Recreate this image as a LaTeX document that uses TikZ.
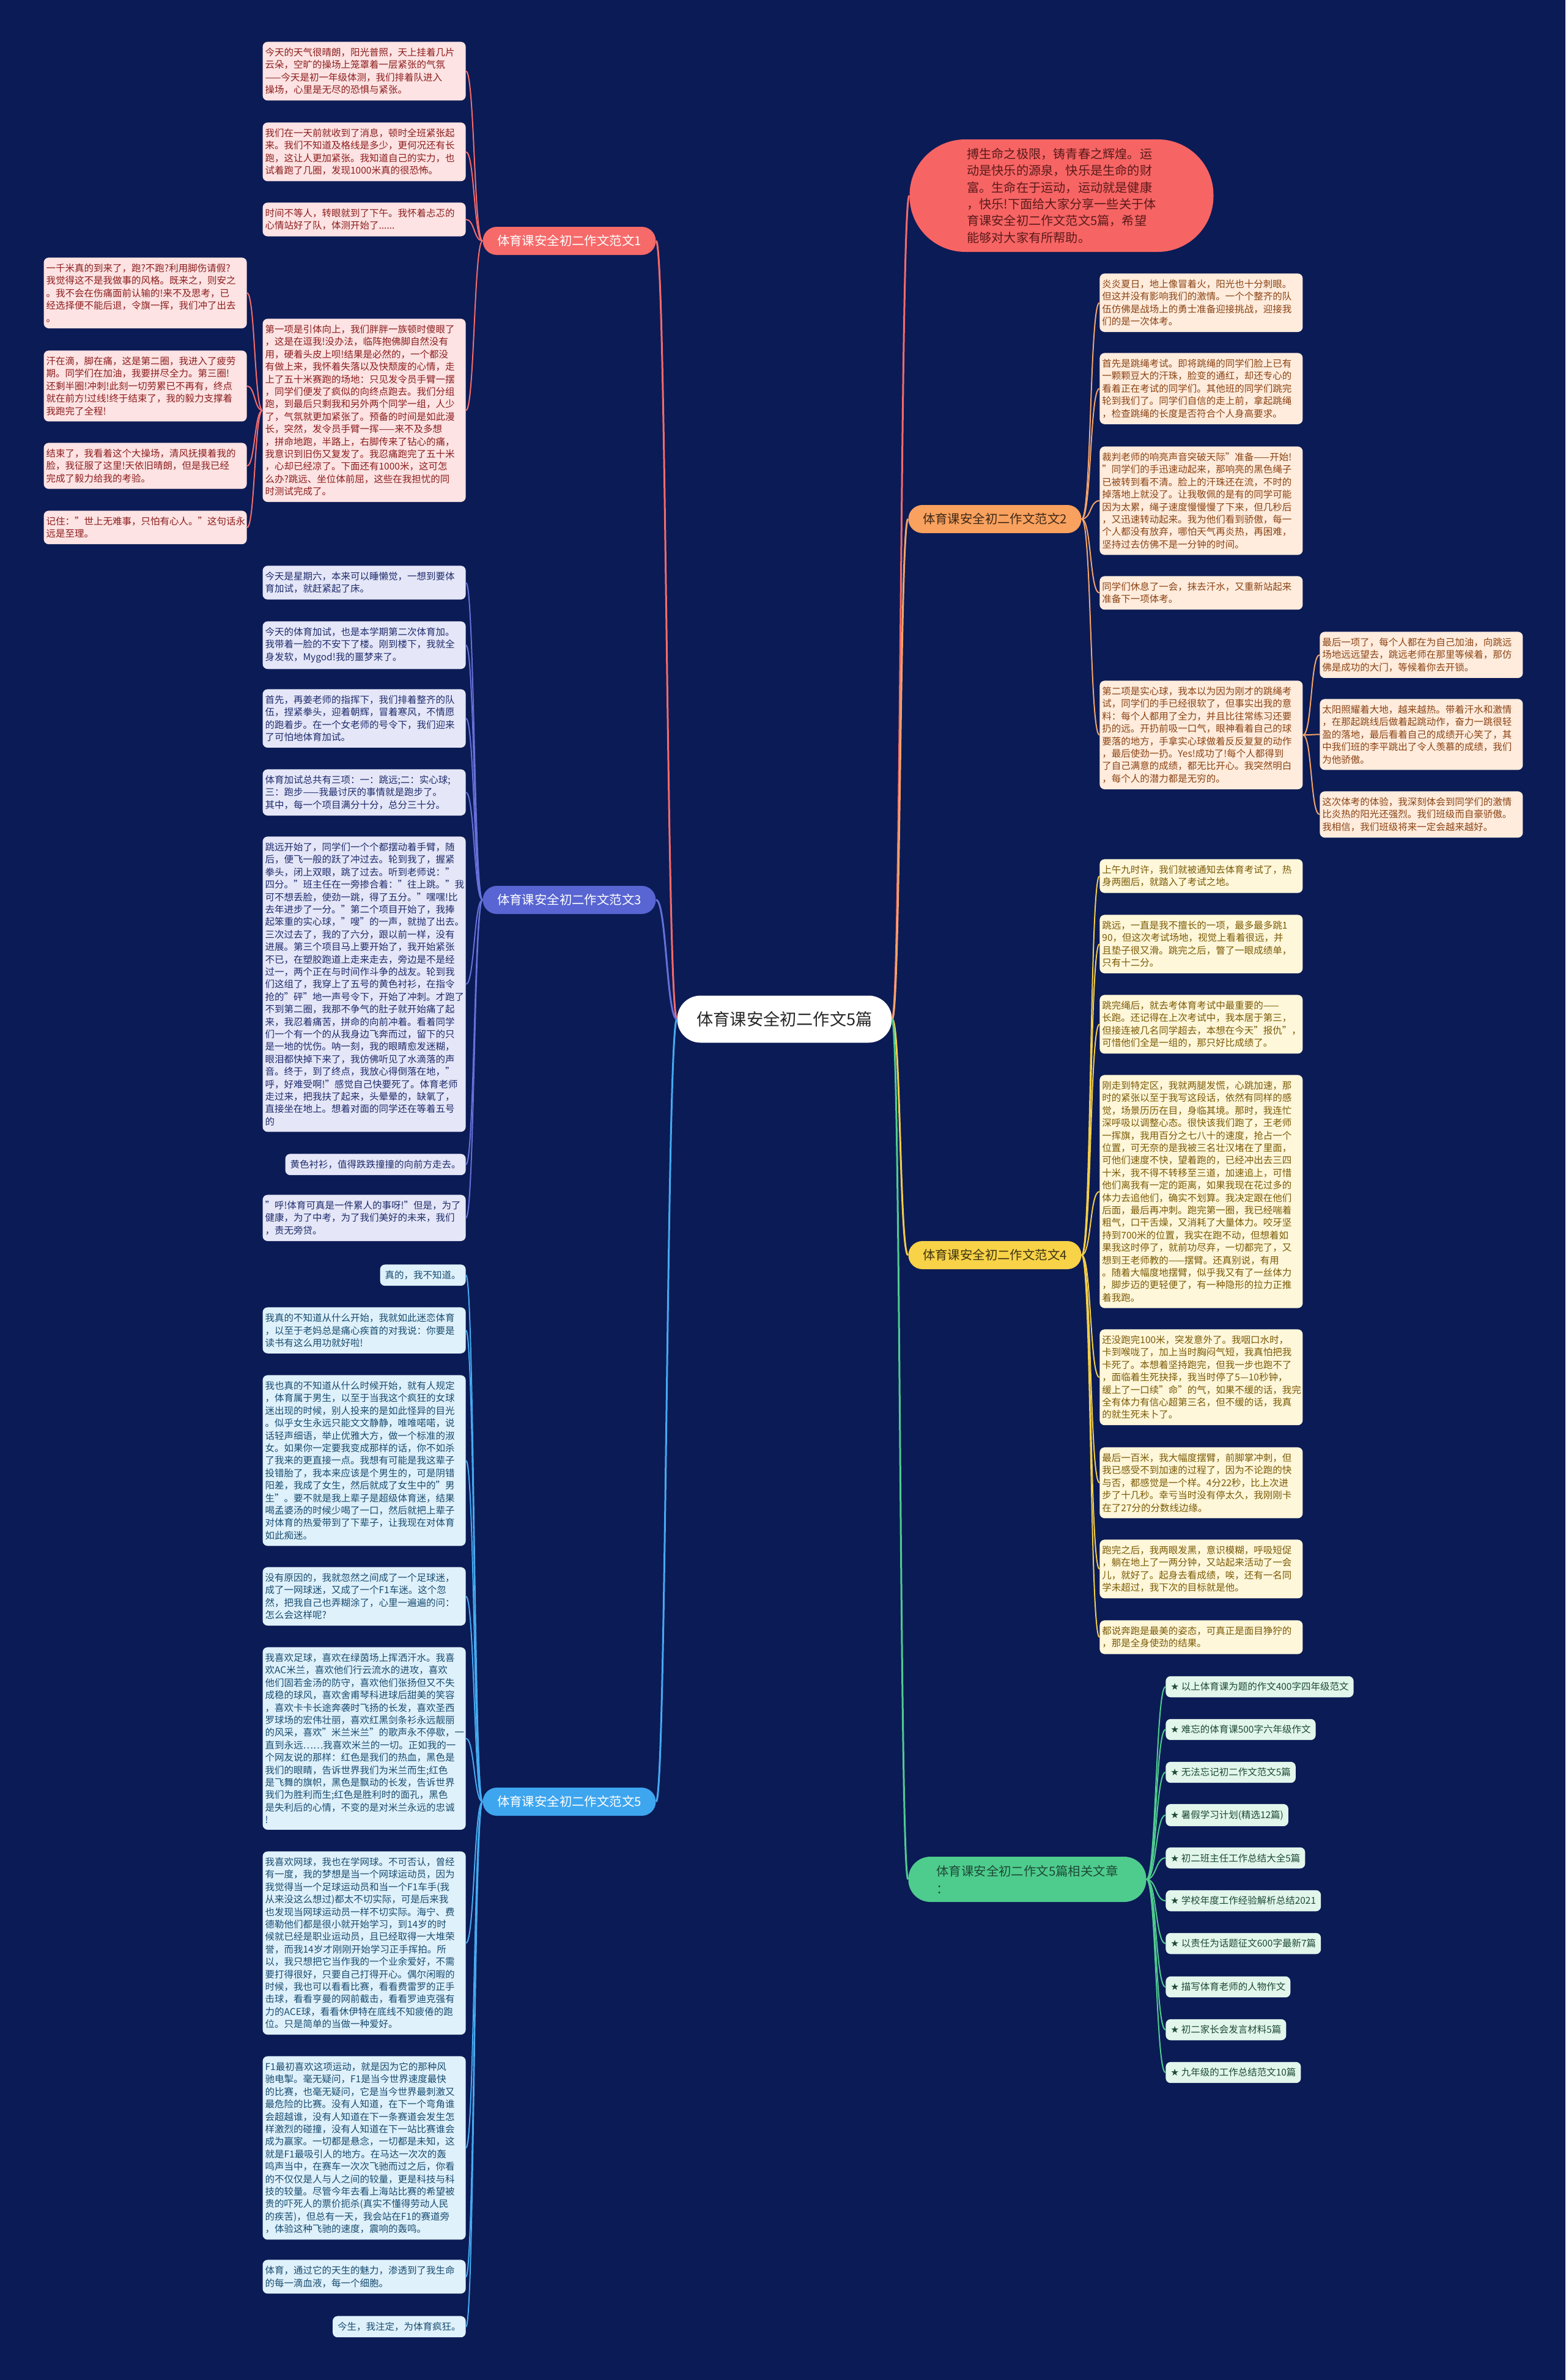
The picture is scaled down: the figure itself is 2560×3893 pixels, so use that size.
\documentclass[tikz,border=0pt]{standalone}
\usepackage{fontspec}
\setmainfont{Noto Sans CJK SC}
\newfontfamily\dvs{DejaVu Sans}
\definecolor{bgc}{HTML}{0B1B55}
\definecolor{c1}{HTML}{F46B6B}
\definecolor{c2}{HTML}{F4A46A}
\definecolor{c3}{HTML}{6670D8}
\definecolor{c4}{HTML}{F2CD4A}
\definecolor{c5}{HTML}{45AAF0}
\definecolor{cg}{HTML}{4FCB8F}
\definecolor{L1c}{HTML}{F66A6A}
\definecolor{L2c}{HTML}{F9A15E}
\definecolor{L3c}{HTML}{5865D2}
\definecolor{L4c}{HTML}{F8D247}
\definecolor{L5c}{HTML}{3EA6EF}
\definecolor{Lgc}{HTML}{4ECC8D}
\definecolor{f1}{HTML}{FDE3E3}
\definecolor{f2}{HTML}{FFECDD}
\definecolor{f3}{HTML}{E5E7F8}
\definecolor{f4}{HTML}{FFF7DA}
\definecolor{f5}{HTML}{DFF1FB}
\definecolor{fg}{HTML}{E2F6EC}
\definecolor{t1}{HTML}{8C1D1D}
\definecolor{t2}{HTML}{8A4313}
\definecolor{t3}{HTML}{1E2B6B}
\definecolor{t4}{HTML}{7A5A05}
\definecolor{t5}{HTML}{184C70}
\definecolor{tg}{HTML}{1D4A36}
\definecolor{introc}{HTML}{F76464}
\definecolor{introt}{HTML}{5C1A1A}
\begin{document}
\begin{tikzpicture}[x=0.5pt,y=-0.5pt,
  bx/.style={rounded corners=4pt, inner xsep=4pt, inner ysep=5pt, align=left,
    font=\fontsize{7.75pt}{10.2pt}\selectfont},
  wide/.style={text width=162pt, inner xsep=2pt},
  bA/.style={bx, fill=f1, text=t1},
  bB/.style={bx, fill=f2, text=t2},
  bC/.style={bx, fill=f3, text=t3},
  bD/.style={bx, fill=f4, text=t4},
  bE/.style={bx, fill=f5, text=t5},
  gi/.style={bx, fill=fg, text=tg, anchor=west},
  lab/.style={rounded corners=11.5pt, minimum width=141.5pt, minimum height=23pt,
    inner sep=0pt, font=\fontsize{10.2pt}{12pt}\selectfont},
  rootn/.style={fill=white, text=black!85, rounded corners=19pt, minimum width=175.5pt,
    minimum height=38.5pt, inner sep=0pt, font=\fontsize{13.6pt}{16pt}\selectfont},
  intro/.style={fill=introc, text=introt, rounded corners=45.5pt, minimum width=248.5pt,
    minimum height=92pt, inner sep=0pt, align=left, font=\fontsize{10.1pt}{13.7pt}\selectfont},
  glab/.style={fill=Lgc, text=tg, rounded corners=18pt, minimum width=194.5pt, minimum height=37pt,
    inner xsep=23pt, inner ysep=0pt, text width=148.5pt, align=left, font=\fontsize{10.2pt}{14.3pt}\selectfont},
  rl/.style={line width=1.5pt},
  ln/.style={line width=1pt}
]
\useasboundingbox (0,0) rectangle (2560,3893);
\fill[bgc] (0,0) rectangle (2560,3893);

% ---------- root and labels ----------
\node[rootn] (root) at (1283,1667) {体育课安全初二作文5篇};
\node[intro] (intro) at (1736,320) {搏生命之极限，铸青春之辉煌。运\\动是快乐的源泉，快乐是生命的财\\富。生命在于运动，运动就是健康\\，快乐!下面给大家分享一些关于体\\育课安全初二作文范文5篇，希望\\能够对大家有所帮助。};
\node[lab, fill=L1c, text=white] (L1) at (931,394) {体育课安全初二作文范文1};
\node[lab, fill=L2c, text=black!75!L2c] (L2) at (1627,849) {体育课安全初二作文范文2};
\node[lab, fill=L3c, text=white] (L3) at (931,1472) {体育课安全初二作文范文3};
\node[lab, fill=L4c, text=black!75!L4c] (L4) at (1627,2053) {体育课安全初二作文范文4};
\node[lab, fill=L5c, text=white] (L5) at (931,2947) {体育课安全初二作文范文5};
\node[glab] (LG) at (1680,3074) {体育课安全初二作文5篇相关文章\\：};

% ---------- branch 1 ----------
\node[bA, wide, anchor=north east] (b1a) at (762,68) {今天的天气很晴朗，阳光普照，天上挂着几片\\云朵，空旷的操场上笼罩着一层紧张的气氛\\——今天是初一年级体测，我们排着队进入\\操场，心里是无尽的恐惧与紧张。};
\node[bA, wide, anchor=north east] (b1b) at (762,200) {我们在一天前就收到了消息，顿时全班紧张起\\来。我们不知道及格线是多少，更何况还有长\\跑，这让人更加紧张。我知道自己的实力，也\\试着跑了几圈，发现1000米真的很恐怖。};
\node[bA, wide, anchor=north east] (b1c) at (762,331) {时间不等人，转眼就到了下午。我怀着忐忑的\\心情站好了队，体测开始了......};
\node[bA, wide, anchor=north east] (b1d) at (762,521) {第一项是引体向上，我们胖胖一族顿时傻眼了\\，这是在逗我!没办法，临阵抱佛脚自然没有\\用，硬着头皮上呗!结果是必然的，一个都没\\有做上来，我怀着失落以及快颓废的心情，走\\上了五十米赛跑的场地：只见发令员手臂一摆\\，同学们便发了疯似的向终点跑去。我们分组\\跑，到最后只剩我和另外两个同学一组，人少\\了，气氛就更加紧张了。预备的时间是如此漫\\长，突然，发令员手臂一挥——来不及多想\\，拼命地跑，半路上，右脚传来了钻心的痛，\\我意识到旧伤又复发了。我忍痛跑完了五十米\\，心却已经凉了。下面还有1000米，这可怎\\么办?跳远、坐位体前屈，这些在我担忧的同\\时测试完成了。};
\node[bA, wide, anchor=north east] (b1e) at (404,421) {一千米真的到来了，跑?不跑?利用脚伤请假?\\我觉得这不是我做事的风格。既来之，则安之\\。我不会在伤痛面前认输的!来不及思考，已\\经选择便不能后退，令旗一挥，我们冲了出去\\。};
\node[bA, wide, anchor=north east] (b1f) at (404,573) {汗在滴，脚在痛，这是第二圈，我进入了疲劳\\期。同学们在加油，我要拼尽全力。第三圈!\\还剩半圈!冲刺!此刻一切劳累已不再有，终点\\就在前方!过线!终于结束了，我的毅力支撑着\\我跑完了全程!};
\node[bA, wide, anchor=north east] (b1g) at (404,724) {结束了，我看着这个大操场，清风抚摸着我的\\脸，我征服了这里!天依旧晴朗，但是我已经\\完成了毅力给我的考验。};
\node[bA, wide, anchor=north east] (b1h) at (404,835) {记住："世上无难事，只怕有心人。"这句话永\\远是至理。};

% ---------- branch 3 ----------
\node[bC, wide, anchor=north east] (b3a) at (762,925) {今天是星期六，本来可以睡懒觉，一想到要体\\育加试，就赶紧起了床。};
\node[bC, wide, anchor=north east] (b3b) at (762,1016) {今天的体育加试，也是本学期第二次体育加。\\我带着一脸的不安下了楼。刚到楼下，我就全\\身发软，Mygod!我的噩梦来了。};
\node[bC, wide, anchor=north east] (b3c) at (762,1127) {首先，再姜老师的指挥下，我们排着整齐的队\\伍，捏紧拳头，迎着朝辉，冒着寒风，不情愿\\的跑着步。在一个女老师的号令下，我们迎来\\了可怕地体育加试。};
\node[bC, wide, anchor=north east] (b3d) at (762,1258) {体育加试总共有三项：一：跳远;二：实心球;\\三：跑步——我最讨厌的事情就是跑步了。\\其中，每一个项目满分十分，总分三十分。};
\node[bC, wide, anchor=north east] (b3e) at (762,1368) {跳远开始了，同学们一个个都摆动着手臂，随\\后，便飞一般的跃了冲过去。轮到我了，握紧\\拳头，闭上双眼，跳了过去。听到老师说："\\四分。"班主任在一旁掺合着："往上跳。"我\\可不想丢脸，使劲一跳，得了五分。"嘿嘿!比\\去年进步了一分。"第二个项目开始了，我捧\\起笨重的实心球，"嗖"的一声，就抛了出去。\\三次过去了，我的了六分，跟以前一样，没有\\进展。第三个项目马上要开始了，我开始紧张\\不已，在塑胶跑道上走来走去，旁边是不是经\\过一，两个正在与时间作斗争的战友。轮到我\\们这组了，我穿上了五号的黄色衬衫，在指令\\抢的"砰"地一声号令下，开始了冲刺。才跑了\\不到第二圈，我那不争气的肚子就开始痛了起\\来，我忍着痛苦，拼命的向前冲着。看着同学\\们一个有一个的从我身边飞奔而过，留下的只\\是一地的忧伤。呐一刻，我的眼睛愈发迷糊，\\眼泪都快掉下来了，我仿佛听见了水滴落的声\\音。终于，到了终点，我放心得倒落在地，"\\呼，好难受啊!"感觉自己快要死了。体育老师\\走过来，把我扶了起来，头晕晕的，缺氧了，\\直接坐在地上。想着对面的同学还在等着五号\\的};
\node[bC, anchor=north east] (b3f) at (762,1887) {黄色衬衫，值得跌跌撞撞的向前方走去。};
\node[bC, wide, anchor=north east] (b3g) at (762,1954) {"呼!体育可真是一件累人的事呀!"但是，为了\\健康，为了中考，为了我们美好的未来，我们\\，责无旁贷。};

% ---------- branch 5 ----------
\node[bE, anchor=north east] (b5a) at (762,2068) {真的，我不知道。};
\node[bE, wide, anchor=north east] (b5b) at (762,2138) {我真的不知道从什么开始，我就如此迷恋体育\\，以至于老妈总是痛心疾首的对我说：你要是\\读书有这么用功就好啦!};
\node[bE, wide, anchor=north east] (b5c) at (762,2249) {我也真的不知道从什么时候开始，就有人规定\\，体育属于男生，以至于当我这个疯狂的女球\\迷出现的时候，别人投来的是如此怪异的目光\\。似乎女生永远只能文文静静，唯唯喏喏，说\\话轻声细语，举止优雅大方，做一个标准的淑\\女。如果你一定要我变成那样的话，你不如杀\\了我来的更直接一点。我想有可能是我这辈子\\投错胎了，我本来应该是个男生的，可是阴错\\阳差，我成了女生，然后就成了女生中的"男\\生"。要不就是我上辈子是超级体育迷，结果\\喝孟婆汤的时候少喝了一口，然后就把上辈子\\对体育的热爱带到了下辈子，让我现在对体育\\如此痴迷。};
\node[bE, wide, anchor=north east] (b5d) at (762,2563) {没有原因的，我就忽然之间成了一个足球迷，\\成了一网球迷，又成了一个F1车迷。这个忽\\然，把我自己也弄糊涂了，心里一遍遍的问：\\怎么会这样呢?};
\node[bE, wide, anchor=north east] (b5e) at (762,2694) {我喜欢足球，喜欢在绿茵场上挥洒汗水。我喜\\欢AC米兰，喜欢他们行云流水的进攻，喜欢\\他们固若金汤的防守，喜欢他们张扬但又不失\\成稳的球风，喜欢舍甫琴科进球后甜美的笑容\\，喜欢卡卡长途奔袭时飞扬的长发，喜欢圣西\\罗球场的宏伟壮丽，喜欢红黑剑条衫永远靓丽\\的风采，喜欢"米兰米兰"的歌声永不停歇，一\\直到永远……我喜欢米兰的一切。正如我的一\\个网友说的那样：红色是我们的热血，黑色是\\我们的眼睛，告诉世界我们为米兰而生;红色\\是飞舞的旗帜，黑色是飘动的长发，告诉世界\\我们为胜利而生;红色是胜利时的面孔，黑色\\是失利后的心情，不变的是对米兰永远的忠诚\\!};
\node[bE, wide, anchor=north east] (b5f) at (762,3028) {我喜欢网球，我也在学网球。不可否认，曾经\\有一度，我的梦想是当一个网球运动员，因为\\我觉得当一个足球运动员和当一个F1车手(我\\从来没这么想过)都太不切实际，可是后来我\\也发现当网球运动员一样不切实际。海宁、费\\德勒他们都是很小就开始学习，到14岁的时\\候就已经是职业运动员，且已经取得一大堆荣\\誉，而我14岁才刚刚开始学习正手挥拍。所\\以，我只想把它当作我的一个业余爱好，不需\\要打得很好，只要自己打得开心。偶尔闲暇的\\时候，我也可以看看比赛，看看费雷罗的正手\\击球，看看亨曼的网前截击，看看罗迪克强有\\力的ACE球，看看休伊特在底线不知疲倦的跑\\位。只是简单的当做一种爱好。};
\node[bE, wide, anchor=north east] (b5g) at (762,3363) {F1最初喜欢这项运动，就是因为它的那种风\\驰电掣。毫无疑问，F1是当今世界速度最快\\的比赛，也毫无疑问，它是当今世界最刺激又\\最危险的比赛。没有人知道，在下一个弯角谁\\会超越谁，没有人知道在下一条赛道会发生怎\\样激烈的碰撞，没有人知道在下一站比赛谁会\\成为赢家。一切都是悬念，一切都是未知，这\\就是F1最吸引人的地方。在马达一次次的轰\\鸣声当中，在赛车一次次飞驰而过之后，你看\\的不仅仅是人与人之间的较量，更是科技与科\\技的较量。尽管今年去看上海站比赛的希望被\\贵的吓死人的票价扼杀(真实不懂得劳动人民\\的疾苦)，但总有一天，我会站在F1的赛道旁\\，体验这种飞驰的速度，震响的轰鸣。};
\node[bE, wide, anchor=north east] (b5h) at (762,3696) {体育，通过它的天生的魅力，渗透到了我生命\\的每一滴血液，每一个细胞。};
\node[bE, anchor=north east] (b5i) at (762,3788) {今生，我注定，为体育疯狂。};

% ---------- branch 2 ----------
\node[bB, wide, anchor=north west] (b2a) at (1798,447) {炎炎夏日，地上像冒着火，阳光也十分刺眼。\\但这并没有影响我们的激情。一个个整齐的队\\伍仿佛是战场上的勇士准备迎接挑战，迎接我\\们的是一次体考。};
\node[bB, wide, anchor=north west] (b2b) at (1798,577) {首先是跳绳考试。即将跳绳的同学们脸上已有\\一颗颗豆大的汗珠，脸变的通红，却还专心的\\看着正在考试的同学们。其他班的同学们跳完\\轮到我们了。同学们自信的走上前，拿起跳绳\\，检查跳绳的长度是否符合个人身高要求。};
\node[bB, wide, anchor=north west] (b2c) at (1798,730) {裁判老师的响亮声音突破天际"准备——开始!\\"同学们的手迅速动起来，那响亮的黑色绳子\\已被转到看不清。脸上的汗珠还在流，不时的\\掉落地上就没了。让我敬佩的是有的同学可能\\因为太累，绳子速度慢慢慢了下来，但几秒后\\，又迅速转动起来。我为他们看到骄傲，每一\\个人都没有放弃，哪怕天气再炎热，再困难，\\坚持过去仿佛不是一分钟的时间。};
\node[bB, wide, anchor=north west] (b2d) at (1798,942) {同学们休息了一会，抹去汗水，又重新站起来\\准备下一项体考。};
\node[bB, wide, anchor=north west] (b2e) at (1798,1113) {第二项是实心球，我本以为因为刚才的跳绳考\\试，同学们的手已经很软了，但事实出我的意\\料：每个人都用了全力，并且比往常练习还要\\扔的远。开扔前吸一口气，眼神看着自己的球\\要落的地方，手拿实心球做着反反复复的动作\\，最后使劲一扔。Yes!成功了!每个人都得到\\了自己满意的成绩，都无比开心。我突然明白\\，每个人的潜力都是无穷的。};
\node[bB, wide, anchor=north west] (b2f) at (2158,1033) {最后一项了，每个人都在为自己加油，向跳远\\场地远远望去，跳远老师在那里等候着，那仿\\佛是成功的大门，等候着你去开锁。};
\node[bB, wide, anchor=north west] (b2g) at (2158,1143) {太阳照耀着大地，越来越热。带着汗水和激情\\，在那起跳线后做着起跳动作，奋力一跳很轻\\盈的落地，最后看着自己的成绩开心笑了，其\\中我们班的李平跳出了令人羡慕的成绩，我们\\为他骄傲。};
\node[bB, wide, anchor=north west] (b2h) at (2158,1294) {这次体考的体验，我深刻体会到同学们的激情\\比炎热的阳光还强烈。我们班级而自豪骄傲。\\我相信，我们班级将来一定会越来越好。};

% ---------- branch 4 ----------
\node[bD, wide, anchor=north west] (b4a) at (1798,1405) {上午九时许，我们就被通知去体育考试了，热\\身两圈后，就踏入了考试之地。};
\node[bD, wide, anchor=north west] (b4b) at (1798,1496) {跳远，一直是我不擅长的一项，最多最多跳1\\90，但这次考试场地，视觉上看着很远，并\\且垫子很又滑。跳完之后，瞥了一眼成绩单，\\只有十二分。};
\node[bD, wide, anchor=north west] (b4c) at (1798,1627) {跳完绳后，就去考体育考试中最重要的——\\长跑。还记得在上次考试中，我本居于第三，\\但接连被几名同学超去，本想在今天"报仇"，\\可惜他们全是一组的，那只好比成绩了。};
\node[bD, wide, anchor=north west] (b4d) at (1798,1758) {刚走到特定区，我就两腿发慌，心跳加速，那\\时的紧张以至于我写这段话，依然有同样的感\\觉，场景历历在目，身临其境。那时，我连忙\\深呼吸以调整心态。很快该我们跑了，王老师\\一挥旗，我用百分之七八十的速度，抢占一个\\位置，可无奈的是我被三名壮汉堵在了里面，\\可他们速度不快，望着跑的，已经冲出去三四\\十米，我不得不转移至三道，加速追上，可惜\\他们离我有一定的距离，如果我现在花过多的\\体力去追他们，确实不划算。我决定跟在他们\\后面，最后再冲刺。跑完第一圈，我已经喘着\\粗气，口干舌燥，又消耗了大量体力。咬牙坚\\持到700米的位置，我实在跑不动，但想着如\\果我这时停了，就前功尽弃，一切都完了，又\\想到王老师教的——摆臂。还真别说，有用\\。随着大幅度地摆臂，似乎我又有了一丝体力\\，脚步迈的更轻便了，有一种隐形的拉力正推\\着我跑。};
\node[bD, wide, anchor=north west] (b4e) at (1798,2174) {还没跑完100米，突发意外了。我咽口水时，\\卡到喉咙了，加上当时胸闷气短，我真怕把我\\卡死了。本想着坚持跑完，但我一步也跑不了\\，面临着生死抉择，我当时停了5—10秒钟，\\缓上了一口续"命"的气，如果不缓的话，我完\\全有体力有信心超第三名，但不缓的话，我真\\的就生死未卜了。};
\node[bD, wide, anchor=north west] (b4f) at (1798,2367) {最后一百米，我大幅度摆臂，前脚掌冲刺，但\\我已感受不到加速的过程了，因为不论跑的快\\与否，都感觉是一个样。4分22秒，比上次进\\步了十几秒。幸亏当时没有停太久，我刚刚卡\\在了27分的分数线边缘。};
\node[bD, wide, anchor=north west] (b4g) at (1798,2518) {跑完之后，我两眼发黑，意识模糊，呼吸短促\\，躺在地上了一两分钟，又站起来活动了一会\\儿，就好了。起身去看成绩，唉，还有一名同\\学未超过，我下次的目标就是他。};
\node[bD, wide, anchor=north west] (b4h) at (1798,2650) {都说奔跑是最美的姿态，可真正是面目狰狞的\\，那是全身使劲的结果。};

% ---------- related articles ----------
\node[gi] (g1) at (1906,2759) {{\dvs ★} 以上体育课为题的作文400字四年级范文};
\node[gi] (g2) at (1906,2829) {{\dvs ★} 难忘的体育课500字六年级作文};
\node[gi] (g3) at (1906,2899) {{\dvs ★} 无法忘记初二作文范文5篇};
\node[gi] (g4) at (1906,2969) {{\dvs ★} 暑假学习计划(精选12篇)};
\node[gi] (g5) at (1906,3039) {{\dvs ★} 初二班主任工作总结大全5篇};
\node[gi] (g6) at (1906,3109) {{\dvs ★} 学校年度工作经验解析总结2021};
\node[gi] (g7) at (1906,3179) {{\dvs ★} 以责任为话题征文600字最新7篇};
\node[gi] (g8) at (1906,3250) {{\dvs ★} 描写体育老师的人物作文};
\node[gi] (g9) at (1906,3320) {{\dvs ★} 初二家长会发言材料5篇};
\node[gi] (g10) at (1906,3390) {{\dvs ★} 九年级的工作总结范文10篇};

% ---------- connectors ----------
\draw[rl, c1] (root.east) .. controls +(15,0) and +(-15,0) .. (intro.west);
\draw[rl, c1] (root.west) .. controls +(-17,0) and +(17,0) .. (L1.east);
\draw[rl, c3] (root.west) .. controls +(-17,0) and +(17,0) .. (L3.east);
\draw[rl, c5] (root.west) .. controls +(-17,0) and +(17,0) .. (L5.east);
\draw[rl, c2] (root.east) .. controls +(14,0) and +(-14,0) .. (L2.west);
\draw[rl, c4] (root.east) .. controls +(14,0) and +(-14,0) .. (L4.west);
\draw[rl, cg] (root.east) .. controls +(14,0) and +(-14,0) .. (LG.west);

\foreach \n in {b1a,b1b,b1c,b1d}
  \draw[ln, c1] (L1.west) .. controls +(-14,0) and +(14,0) .. (\n.east);
\foreach \n in {b1e,b1f,b1g,b1h}
  \draw[ln, c1] (b1d.west) .. controls +(-13,0) and +(13,0) .. (\n.east);
\foreach \n in {b3a,b3b,b3c,b3d,b3e,b3f,b3g}
  \draw[ln, c3] (L3.west) .. controls +(-14,0) and +(14,0) .. (\n.east);
\foreach \n in {b5a,b5b,b5c,b5d,b5e,b5f,b5g,b5h,b5i}
  \draw[ln, c5] (L5.west) .. controls +(-14,0) and +(14,0) .. (\n.east);
\foreach \n in {b2a,b2b,b2c,b2d,b2e}
  \draw[ln, c2] (L2.east) .. controls +(16,0) and +(-16,0) .. (\n.west);
\foreach \n in {b2f,b2g,b2h}
  \draw[ln, c2] (b2e.east) .. controls +(15,0) and +(-15,0) .. (\n.west);
\foreach \n in {b4a,b4b,b4c,b4d,b4e,b4f,b4g,b4h}
  \draw[ln, c4] (L4.east) .. controls +(16,0) and +(-16,0) .. (\n.west);
\foreach \n in {g1,g2,g3,g4,g5,g6,g7,g8,g9,g10}
  \draw[ln, cg] (LG.east) .. controls +(16,0) and +(-16,0) .. (\n.west);
\end{tikzpicture}
\end{document}
